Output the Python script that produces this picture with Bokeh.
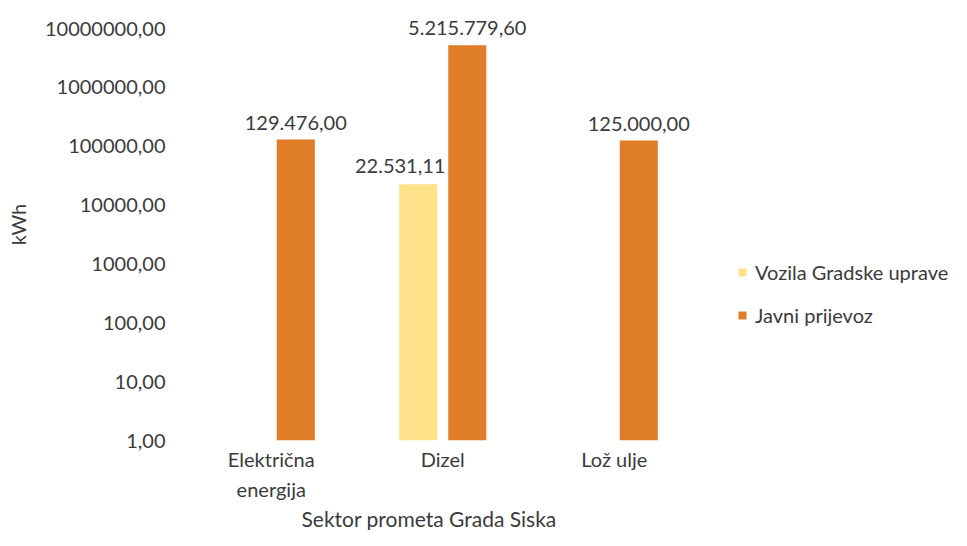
import math
from bokeh.plotting import figure
from bokeh.models import (ColumnDataSource, Range1d, FixedTicker, Legend,
                          LegendItem, Title)
from bokeh.transform import dodge
from bokeh.core.properties import value
from bokeh.embed import file_html
from bokeh.resources import INLINE

categories = ["Električna\nenergija", "Dizel", "Lož ulje"]
series_names = ["Vozila Gradske uprave", "Javni prijevoz"]
vozila = [float("nan"), 22531.11, float("nan")]
javni = [129476.00, 5215779.60, 125000.00]
y_ticks = [1, 10, 100, 1000, 10000, 100000, 1000000, 10000000]
y_tick_labels = ["1,00", "10,00", "100,00", "1000,00", "10000,00",
                 "100000,00", "1000000,00", "10000000,00"]
x_title = "Sektor prometa Grada Siska"
y_title = "kWh"

FONT = "Lato"
TXT = "#3b3b3b"
YELLOW = "#FFE289"
ORANGE = "#E07D28"

W, H = 951, 530
LEFT = 185
CAT_PX = 171.5  # pixel width of one category slot
Y_TOP = 2.187e7  # axis headroom above the last tick


def hr_fmt(v):
    s = f"{v:,.2f}"
    return s.replace(",", "X").replace(".", ",").replace("X", ".")


cat_x = [i + 0.5 for i in range(len(categories))]


def src_for(vals):
    xs = [x for x, v in zip(cat_x, vals) if not math.isnan(v)]
    vs = [v for v in vals if not math.isnan(v)]
    return ColumnDataSource(dict(x=xs, top=vs, bottom=[1] * len(vs),
                                 label=[hr_fmt(v) for v in vs]))


p = figure(x_range=Range1d(0, (W - LEFT) / CAT_PX), y_axis_type="log",
           y_range=Range1d(1, Y_TOP),
           width=W, height=H,
           min_border_left=LEFT, min_border_top=8, min_border_bottom=90,
           min_border_right=0,
           output_backend="svg", toolbar_location=None)
p.outline_line_color = None
p.xgrid.grid_line_color = None
p.ygrid.grid_line_color = None
p.background_fill_color = "white"
p.border_fill_color = "white"

off = 0.143
bw = 0.222
s_v = src_for(vozila)
s_j = src_for(javni)
r_v = p.vbar(x=dodge("x", -off), top="top", bottom="bottom",
             width=bw, source=s_v, fill_color=YELLOW, line_color=None)
r_j = p.vbar(x=dodge("x", off), top="top", bottom="bottom",
             width=bw, source=s_j, fill_color=ORANGE, line_color=None)

p.text(x=dodge("x", -off), y="top", text="label", source=s_v,
       text_font=value(FONT), text_font_size="20px", text_color=TXT,
       text_align="center", text_baseline="alphabetic", x_offset=-18, y_offset=-18)
p.text(x=dodge("x", off), y="top", text="label", source=s_j,
       text_font=value(FONT), text_font_size="20px", text_color=TXT,
       text_align="center", text_baseline="alphabetic", y_offset=-17)

# y axis
ya = p.yaxis[0]
ya.ticker = FixedTicker(ticks=y_ticks)
ya.major_label_overrides = {float(t): l for t, l in zip(y_ticks, y_tick_labels)}
ya.axis_line_color = None
ya.major_tick_line_color = None
ya.minor_tick_line_color = None
ya.major_tick_in = 0
ya.major_tick_out = 0
ya.major_label_standoff = 20
ya.major_label_text_font = FONT
ya.major_label_text_font_size = "20px"
ya.major_label_text_color = TXT
ya.axis_label = y_title
ya.axis_label_text_font = FONT
ya.axis_label_text_font_size = "20px"
ya.axis_label_text_font_style = "normal"
ya.axis_label_text_color = TXT
ya.axis_label_standoff = 12

# x axis
xa = p.xaxis[0]
xa.ticker = FixedTicker(ticks=cat_x)
xa.major_label_overrides = {x: c for x, c in zip(cat_x, categories)}
xa.axis_line_color = None
xa.major_tick_line_color = None
xa.minor_tick_line_color = None
xa.major_tick_in = 0
xa.major_tick_out = 0
xa.major_label_standoff = 6
xa.major_label_text_font = FONT
xa.major_label_text_font_size = "20px"
xa.major_label_text_color = TXT
xa.major_label_text_line_height = 1.25

p.add_layout(Title(text=x_title, align="left", offset=116,
                   text_font=FONT, text_font_size="21px",
                   text_font_style="normal", text_color=TXT, standoff=0),
             "below")

legend = Legend(items=[LegendItem(label=series_names[0], renderers=[r_v]),
                       LegendItem(label=series_names[1], renderers=[r_j])],
                location=(552, 113), orientation="vertical",
                glyph_width=10, glyph_height=10, label_standoff=8,
                label_height=20, spacing=19, padding=0, margin=0,
                label_text_font=FONT, label_text_font_size="20px",
                label_text_color=TXT, border_line_color=None,
                background_fill_alpha=0)
p.add_layout(legend, "center")

open("out.html", "w").write(file_html(p, INLINE))
